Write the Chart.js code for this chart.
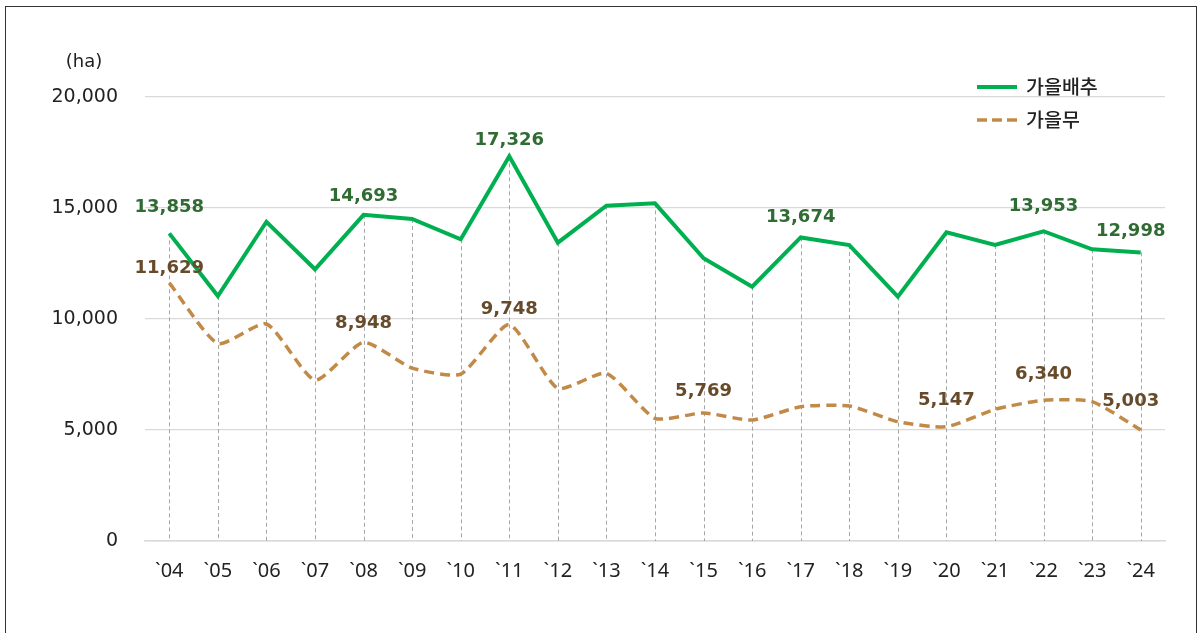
<!DOCTYPE html>
<html>
<head>
<meta charset="utf-8">
<script src="https://cdn.jsdelivr.net/npm/chart.js@4/dist/chart.umd.min.js"></script>
<style>
  html, body { margin: 0; padding: 0; background: #fff; }
  #wrap { position: relative; width: 1203px; height: 633px; overflow: hidden; }
  #frame { position: absolute; left: 5px; top: 6px; width: 1192px; height: 640px; border: 1.5px solid #333; box-sizing: border-box; }
  #chart { position: absolute; left: 0; top: 0; }
</style>
</head>
<body>
<div id="wrap">
  <div id="frame"></div>
  <canvas id="chart" width="1203" height="633"></canvas>
</div>
<script>
// autumn cabbage / autumn radish cultivation area (ha)
const years = ["`04","`05","`06","`07","`08","`09","`10","`11","`12","`13","`14","`15","`16","`17","`18","`19","`20","`21","`22","`23","`24"];
const cabbage = [13858, 11036, 14380, 12240, 14693, 14505, 13590, 17326, 13437, 15104, 15210, 12734, 11457, 13674, 13333, 11005, 13905, 13333, 13953, 13138, 12998];
const radish  = [11629, 8900, 9775, 7250, 8948, 7790, 7520, 9748, 6877, 7553, 5527, 5769, 5450, 6050, 6080, 5375, 5147, 5930, 6340, 6275, 5003];
const cabbageLabeled = [0, 4, 7, 13, 18, 20];
const radishLabeled = [0, 4, 7, 11, 16, 18, 20];
const yTicks = [0, 5000, 10000, 15000, 20000];

const FONT = "'DejaVu Sans', 'Noto Sans CJK KR', sans-serif";
const XFONT = "'Noto Sans', sans-serif";
const KFONT = "'Noto Sans CJK KR', 'DejaVu Sans', sans-serif";
const GREEN = "#00b050", BROWN = "#c28a48";
const fmt = n => n.toLocaleString("en-US");

// how far above its point each value label sits
const cabbageLift = [26, 18, 16, 20, 25, 21];
const radishLift = [15, 19, 15, 22, 26, 26, 29];

const overlay = {
  id: "overlay",
  beforeDatasetsDraw(chart) {
    // dashed drop lines from the top series to the axis
    const ctx = chart.ctx, meta = chart.getDatasetMeta(0), bottom = chart.chartArea.bottom;
    ctx.save();
    ctx.strokeStyle = "#a6a6a6";
    ctx.lineWidth = 1;
    ctx.setLineDash([4, 3]);
    meta.data.forEach(p => {
      const x = Math.round(p.x) + 0.5;
      ctx.beginPath(); ctx.moveTo(x, p.y); ctx.lineTo(x, bottom); ctx.stroke();
    });
    ctx.restore();
  },
  afterDatasetsDraw(chart) {
    const ctx = chart.ctx;
    ctx.save();
    ctx.font = "bold 18px " + FONT;
    ctx.textAlign = "center";
    ctx.textBaseline = "middle";
    const sets = [[0, cabbageLabeled, "#2f6b33", cabbageLift], [1, radishLabeled, "#674a2a", radishLift]];
    sets.forEach(([di, idx, color, lift]) => {
      const meta = chart.getDatasetMeta(di), data = chart.data.datasets[di].data;
      ctx.fillStyle = color;
      idx.forEach((i, k) => {
        const p = meta.data[i];
        const dx = i === data.length - 1 ? -10 : 0;
        ctx.fillText(fmt(data[i]), p.x + dx, p.y - lift[k]);
      });
    });
    // unit label
    ctx.font = "18px " + FONT;
    ctx.fillStyle = "#222";
    ctx.fillText("(ha)", 84, 62);
    // legend
    ctx.textAlign = "left";
    ctx.lineWidth = 4;
    ctx.strokeStyle = GREEN;
    ctx.setLineDash([]);
    ctx.beginPath(); ctx.moveTo(977, 87); ctx.lineTo(1017, 87); ctx.stroke();
    ctx.strokeStyle = BROWN;
    ctx.lineWidth = 3.5;
    ctx.setLineDash([10, 5]);
    ctx.beginPath(); ctx.moveTo(977, 120); ctx.lineTo(1017, 120); ctx.stroke();
    ctx.fillStyle = "#222";
    ctx.font = "500 19.5px " + KFONT;
    ctx.fillText(chart.data.datasets[0].label, 1026, 87);
    ctx.fillText(chart.data.datasets[1].label, 1026, 120);
    ctx.restore();
  }
};

new Chart(document.getElementById("chart"), {
  type: "line",
  data: {
    labels: years,
    datasets: [
      { label: "가을배추", data: cabbage, borderColor: GREEN, borderWidth: 4, pointRadius: 0, tension: 0, fill: false },
      { label: "가을무", data: radish, borderColor: BROWN, borderWidth: 3.5, borderDash: [10, 6], pointRadius: 0, tension: 0.2, fill: false }
    ]
  },
  options: {
    responsive: false,
    animation: false,
    layout: { padding: { left: 0, right: 38, top: 97, bottom: 0 } },
    plugins: { legend: { display: false }, tooltip: { enabled: false } },
    scales: {
      x: {
        offset: true,
        grid: { display: false, drawTicks: false },
        border: { display: true, color: "#d9d9d9", width: 1.5 },
        ticks: { color: "#222", font: { family: XFONT, size: 20 }, padding: 18, maxRotation: 0, autoSkip: false },
        afterFit: s => { s.height = 633 - 541; }
      },
      y: {
        min: 0, max: 20000,
        afterBuildTicks: s => { s.ticks = yTicks.map(v => ({ value: v })); },
        grid: { color: "#d9d9d9", lineWidth: 1.2, drawTicks: false },
        border: { display: false },
        ticks: { color: "#222", font: { family: FONT, size: 19 }, padding: 27, callback: v => fmt(v) },
        afterFit: s => { s.width = 145; }
      }
    }
  },
  plugins: [overlay]
});
</script>
</body>
</html>
